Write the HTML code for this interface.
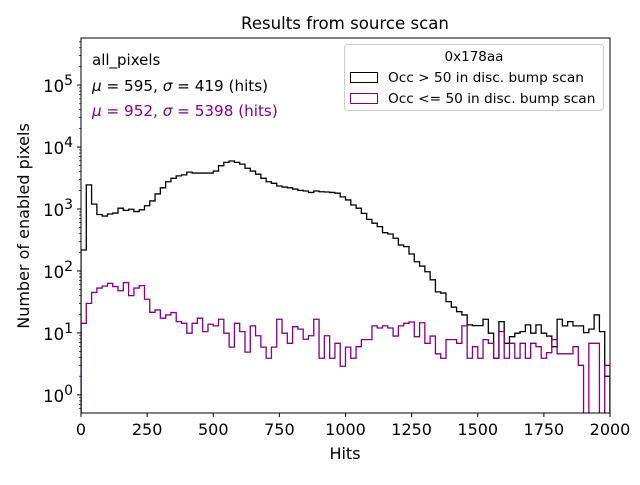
<!DOCTYPE html>
<html><head><meta charset="utf-8"><style>
body{margin:0;background:#fff}
svg text{font-family:"DejaVu Sans","Liberation Sans",sans-serif}
</style></head><body>
<svg id="chart" width="640" height="480" xmlns="http://www.w3.org/2000/svg">
<rect width="640" height="480" fill="#fff"/>
<text x="345" y="29" font-size="16.6" text-anchor="middle">Results from source scan</text>
<g id="plot"></g>
<rect x="81" y="38" width="529" height="375" fill="none" stroke="#000" stroke-width="1"/>
<text x="92" y="65" font-size="15">all_pixels</text>
<text x="92" y="91" font-size="15.2"><tspan font-style="italic">μ</tspan> = 595, <tspan font-style="italic">σ</tspan> = 419 (hits)</text>
<text x="92" y="116" font-size="15.2" fill="#800080"><tspan font-style="italic">μ</tspan> = 952, <tspan font-style="italic">σ</tspan> = 5398 (hits)</text>
<g>
<rect x="344.5" y="44.5" width="259" height="66" rx="3" fill="#fff" fill-opacity="0.8" stroke="#ccc"/>
<text x="474" y="61" font-size="13.5" text-anchor="middle">0x178aa</text>
<rect x="350.5" y="72.5" width="27" height="10" fill="none" stroke="#000"/>
<text x="388" y="82" font-size="13.7">Occ &gt; 50 in disc. bump scan</text>
<rect x="350.5" y="93.5" width="27" height="10" fill="none" stroke="#800080"/>
<text x="388" y="103" font-size="13.7">Occ &lt;= 50 in disc. bump scan</text>
</g>
<text x="345" y="459" font-size="16" text-anchor="middle">Hits</text>
<text transform="translate(29,226) rotate(-90)" font-size="16" text-anchor="middle">Number of enabled pixels</text>
</svg>
<script>
const binEdgesStart = 0, binWidth = 20;
const blackCounts = [218,2450,1200,815,770,830,860,1030,950,990,910,970,1130,1350,1750,2200,2750,3130,3430,3560,3940,3800,3800,3800,3800,4100,5000,5650,5950,5650,5300,4550,4100,3650,3130,2750,2600,2350,2260,2200,2100,2000,1950,1850,1950,1900,1880,1850,1800,1570,1400,1160,1030,850,680,590,520,415,395,337,262,247,188,141,120,97,72,46,44,32,26,22,19.5,13.5,13.1,13.1,16.6,9.9,3.9,15.2,6.8,8.7,9.9,10.5,13.5,9.9,13.5,9.9,8.9,6,16.6,13,15.2,13,13,10.1,11.5,19.5,10.5,2];
const purpleCounts = [14.3,30,45,53,57,63,56,48,65,40,53,58,35,21.5,23.5,17.3,19.5,21.3,15.2,14.3,9.9,14.3,17.3,10.5,13.8,13,16.6,9.9,5.9,14.3,10.5,4.9,13,9,5.9,3.9,5.9,16.6,9.9,6.8,12.6,11.5,7.9,9,16.6,3.9,9,3.9,6.8,2.9,5.9,3.9,6,7.8,7.8,13,12,13,12,8.9,13,14.3,15,8.7,14.6,6.8,8.9,4.6,3.9,7.8,7.8,6.8,13,3.9,6,3.9,7.8,6.8,3.9,10.5,3.9,6.8,3.9,6.8,3.9,6.8,6,3.9,4.8,7.8,4.6,4.6,4.6,6,3,0,6.8,6.8,0,3];
const xTicks = [0,250,500,750,1000,1250,1500,1750,2000];
const yTickExps = [0,1,2,3,4,5];
const X0=81,X1=610,Y0=413,Y1=38,XMIN=0,XMAX=2000,LMIN=Math.log10(0.51),LMAX=5.76;
const NS="http://www.w3.org/2000/svg";
function xs(v){return X0+(v-XMIN)/(XMAX-XMIN)*(X1-X0);}
function ys(v){if(v<=0)return Y0+5;const y=Y0-(Math.log10(v)-LMIN)/(LMAX-LMIN)*(Y0-Y1);return Math.min(y,Y0+5);}
const g=document.getElementById('plot');
function mk(t,a){const e=document.createElementNS(NS,t);for(const k in a)e.setAttribute(k,a[k]);g.appendChild(e);return e;}
const clip=mk('clipPath',{id:'pc'});const cr=document.createElementNS(NS,'rect');cr.setAttribute('x',X0);cr.setAttribute('y',Y1);cr.setAttribute('width',X1-X0);cr.setAttribute('height',Y0-Y1);clip.appendChild(cr);
function step(counts,color,name){
  let d='M'+xs(binEdgesStart)+','+(Y0+5);
  counts.forEach((c,i)=>{const a=xs(binEdgesStart+i*binWidth),b=xs(binEdgesStart+(i+1)*binWidth),y=ys(c);d+=' L'+a+','+y+' L'+b+','+y;});
  d+=' L'+xs(binEdgesStart+counts.length*binWidth)+','+(Y0+5);
  const p=mk('path',{d:d,fill:'none',stroke:color,'stroke-width':1.3,'clip-path':'url(#pc)'});
  
  
}
step(blackCounts,'#000','histogram-occ-gt-50');
step(purpleCounts,'#800080','histogram-occ-le-50');
xTicks.forEach(t=>{const x=xs(t);mk('line',{x1:x,x2:x,y1:Y0,y2:Y0+4,stroke:'#000'});
  const tx=mk('text',{x:x,y:Y0+22,'font-size':16,'text-anchor':'middle'});tx.textContent=t;
  
  });
for(let e=-1;e<=5;e++){for(let m=1;m<10;m++){const v=m*Math.pow(10,e);const L=Math.log10(v);if(L<LMIN||L>LMAX)continue;const y=ys(v);
  mk('line',{x1:X0,x2:X0-(m==1?4:2),y1:y,y2:y,stroke:'#000','stroke-width':m==1?1:0.7});}}
yTickExps.forEach(e=>{const y=ys(Math.pow(10,e));
  const tx=mk('text',{x:X0-8,y:y+7,'font-size':16.5,'text-anchor':'end'});
  tx.innerHTML='10<tspan dy="-7" font-size="14">'+e+'</tspan>';
  
  });
</script>
</body></html>
